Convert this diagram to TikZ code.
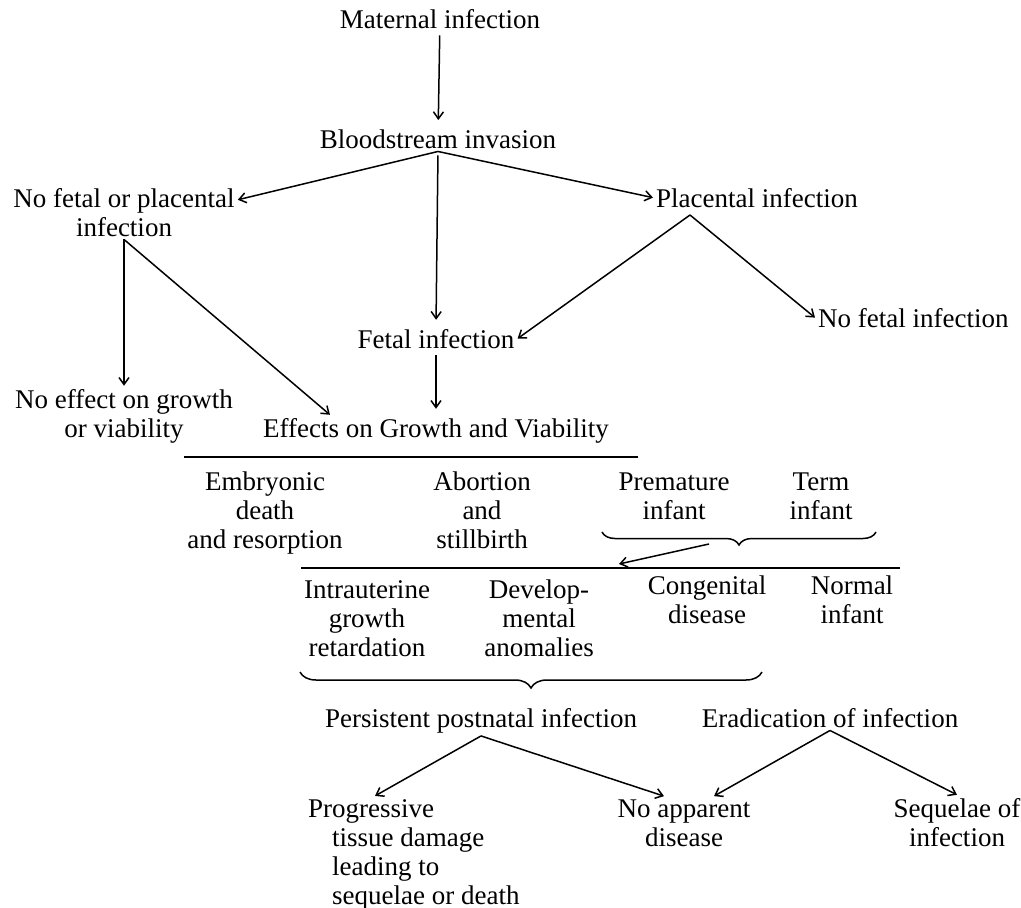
\documentclass[tikz,border=0pt]{standalone}
\usepackage{fontspec}
\setmainfont{Liberation Serif}
\usetikzlibrary{arrows.meta,decorations.pathreplacing}

\begin{document}
\begin{tikzpicture}[x=1pt, y=-1pt, font=\fontsize{27}{29}\selectfont,
	every node/.style={inner sep=3pt, align=center},
	arr/.style={line width=1.5pt, -{Straight Barb[length=7pt,width=10pt]}},
	down/.style={arr, shorten >=6pt, shorten <=4pt},
	rule/.style={line width=2.2pt},
	curly/.style={line width=1.5pt, decorate, decoration={brace, mirror, amplitude=#1}}]
	\useasboundingbox (0,0) rectangle (1021,908);
	%top (multi-line nodes sit on their last baseline)
	\node[anchor=base] (mat) at (440,28) {Maternal infection};
	\node[anchor=base] (blood) at (438,148) {Bloodstream invasion};
	\node[anchor=base] (nofp) at (124,236) {No fetal or placental\\infection};
	\node[anchor=base west] (plac) at (653,207) {Placental infection};
	\coordinate (pa) at (690,215);
	\node[anchor=base] (fetal) at (436,348) {Fetal infection};
	\node[anchor=base west] (nofet) at (815,327) {No fetal infection};
	\node[anchor=base] (noeff) at (124,437) {No effect on growth\\or viability};
	\node[anchor=base] (effects) at (436,437) {Effects on Growth and Viability};
	%arrows
	\draw[down] (mat) -- (blood);
	\draw[arr] (blood.south) -- ([yshift=-15pt]nofp.north east);
	\draw[arr] (blood.south) -- (plac.west);
	\draw[down] (blood.south) -- (fetal.north);
	\draw[arr] (pa) -- (fetal.east);
	\draw[arr] (pa) -- (nofet.west);
	\draw[arr] (nofp.south) -- (noeff.north);
	\draw[arr] (nofp.south) -- ([xshift=-106pt]effects.north);
	\draw[down] (fetal.south) -- (effects.north);
	%first row
	\draw[rule] (184,457) -- (638,457);
	\node[anchor=base] (emb) at (265,548) {Embryonic\\death\\and resorption};
	\node[anchor=base] (abort) at (482,548) {Abortion\\and\\stillbirth};
	\node[anchor=base] (prem) at (674,519) {Premature\\infant};
	\node[anchor=base] (term) at (821,519) {Term\\infant};
	\draw[curly=13pt] (602,532) -- (876,532);
	\coordinate (bk) at (709,544);
	\coordinate (bt) at (619,564);
	\draw[arr] (bk) -- (bt);
	%second row
	\draw[rule] (301,568) -- (900,568);
	\node[anchor=base] (iug) at (367,656) {Intrauterine\\growth\\retardation};
	\node[anchor=base] (dev) at (539,656) {Develop-\\mental\\anomalies};
	\node[anchor=base] (cong) at (707,623) {Congenital\\disease};
	\node[anchor=base] (norm) at (852,623) {Normal\\infant};
	\draw[curly=16pt] (300,672) -- (762,672);
	%outcome
	\node[anchor=base] (pers) at (481,727) {Persistent postnatal infection};
	\node[anchor=base] (erad) at (830,727) {Eradication of infection};
	\node[anchor=base west, align=left] (prog) at (305,904)
	{Progressive\\\hspace*{24pt}tissue damage\\\hspace*{24pt}leading to\\\hspace*{24pt}sequelae or death};
	\node[anchor=base] (noapp) at (684,846) {No apparent\\disease};
	\node[anchor=base] (seq) at (957,846) {Sequelae of\\infection};
	\draw[arr] (pers.south) -- ([xshift=70pt]prog.north west);
	\draw[arr] (pers.south) -- ([xshift=-20pt]noapp.north);
	\draw[arr] (erad.south) -- ([xshift=30pt]noapp.north);
	\draw[arr] (erad.south) -- (seq.north);
\end{tikzpicture}
\end{document}
